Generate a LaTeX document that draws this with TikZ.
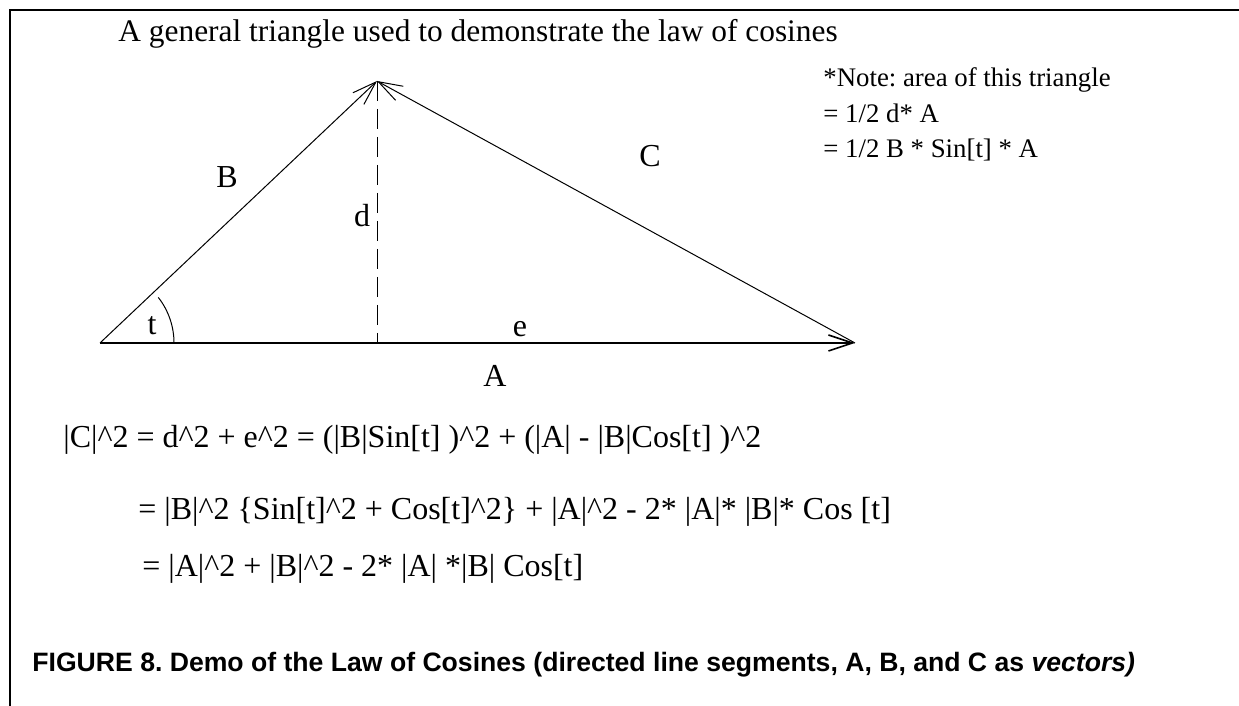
\documentclass[tikz,border=0pt]{standalone}
\usepackage{fontspec}
\setmainfont{Liberation Serif}
\setsansfont{Liberation Sans}
\usepackage{tikz}
\usetikzlibrary{arrows.meta}
\frenchspacing

\begin{document}
\begin{tikzpicture}[
  x=0.5pt, y=0.5pt,
  lbl/.style={font=\fontsize{16}{19}\selectfont, inner sep=0pt, anchor=base},
  eqn/.style={font=\fontsize{16}{19}\selectfont, inner sep=0pt, anchor=base west},
  vec/.style={-{Straight Barb[length=12pt,width=8pt]}, line width=0.5pt},
]
\useasboundingbox (0,0) rectangle (1239,706);
\draw[line width=1pt] (10,0) -- (10,696) -- (1239,696);

\node[eqn, font=\fontsize{15.7}{19}\selectfont] (title) at (118,664)
  {A general triangle used to demonstrate the law of cosines};

% corners of the triangle
\coordinate (L) at (100,363);
\coordinate (P) at (377,625);
\coordinate (R) at (855,363);
\coordinate (F) at (377,363);

\draw[vec] (L) -- (P);
\draw[vec] (R) -- (P);
\draw[vec, line width=0.8pt] (L) -- (R);
\draw[line width=0.5pt, dash pattern=on 10pt off 4pt] (P) -- (F);
\draw[line width=0.5pt] (L) ++(74,0) arc[start angle=0, end angle=38, radius=37pt];

\node[lbl] (t) at (152,371) {t};
\node[lbl] (B) at (227,518) {B};
\node[lbl] (d) at (362,479) {d};
\node[lbl] (C) at (650,539) {C};
\node[lbl] (e) at (520,369) {e};
\node[lbl] (A) at (495,319) {A};

% base of a multi-line node is its last line
\node[eqn, align=left, font=\fontsize{13.4}{17.75}\selectfont] (note) at (823,548)
  {*Note: area of this triangle\\= 1/2 d* A\\= 1/2 B * Sin[t] * A};

\node[eqn] (eq1) at (63,258)
  {|C|\^{}2 = d\^{}2 + e\^{}2 = (|B|Sin[t] )\^{}2 + (|A| - |B|Cos[t] )\^{}2};
\node[eqn] (eq2) at (138,186)
  {= |B|\^{}2 \{Sin[t]\^{}2 + Cos[t]\^{}2\} + |A|\^{}2 - 2* |A|* |B|* Cos [t]};
\node[eqn] (eq3) at (142,129)
  {= |A|\^{}2 + |B|\^{}2 - 2* |A| *|B| Cos[t]};

\node[eqn, font=\sffamily\bfseries\fontsize{13.3}{16}\selectfont] (caption) at (32,34)
  {FIGURE 8. Demo of the Law of Cosines (directed line segments, A, B, and C as \textit{vectors)}};
\end{tikzpicture}
\end{document}
